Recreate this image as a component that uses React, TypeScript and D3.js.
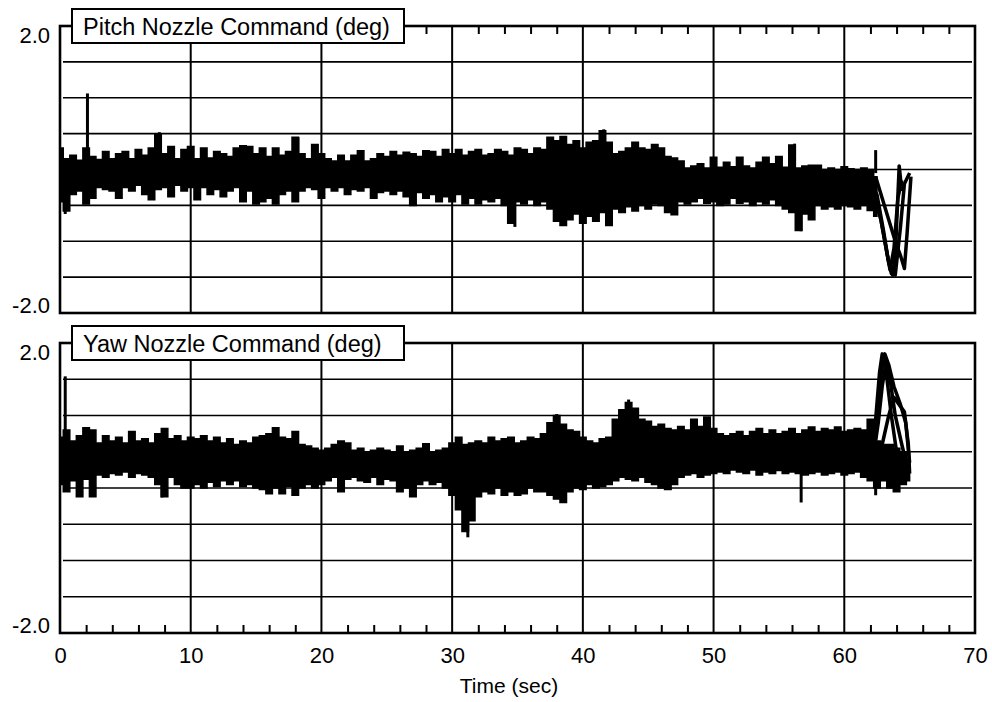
import React, { useEffect, useRef } from 'react';
import * as d3 from 'd3';

// x axis
const xTicks = [0, 10, 20, 30, 40, 50, 60, 70];
const xMinor = [2, 4, 6, 8, 12, 14, 16, 18, 22, 24, 26, 28, 32, 34, 36, 38, 42, 44, 46, 48, 52, 54, 56, 58, 62, 64, 66, 68];
const yGrid = [-1.5, -1, -0.5, 0, 0.5, 1, 1.5];
const yLabels = [-2, 2];

// band samples every 0.5 s, starting at t = 0
const SAMPLE_DT = 0.5;

const pitchUpper = [
  0.30, 0.15, 0.20, 0.13, 0.30, 0.18, 0.14, 0.25, 0.15, 0.22,
  0.25, 0.15, 0.28, 0.20, 0.30, 0.50, 0.22, 0.32, 0.15, 0.28,
  0.32, 0.15, 0.30, 0.16, 0.25, 0.22, 0.18, 0.30, 0.33, 0.32,
  0.22, 0.30, 0.18, 0.30, 0.20, 0.25, 0.45, 0.22, 0.15, 0.35,
  0.22, 0.15, 0.12, 0.20, 0.12, 0.20, 0.26, 0.12, 0.15, 0.22,
  0.18, 0.25, 0.20, 0.24, 0.22, 0.18, 0.26, 0.25, 0.18, 0.28,
  0.22, 0.28, 0.20, 0.25, 0.28, 0.20, 0.22, 0.28, 0.25, 0.20,
  0.30, 0.28, 0.22, 0.30, 0.28, 0.45, 0.40, 0.46, 0.35, 0.40,
  0.30, 0.38, 0.40, 0.54, 0.38, 0.22, 0.25, 0.30, 0.38, 0.30,
  0.28, 0.35, 0.30, 0.18, 0.16, 0.12, 0.02, 0.05, 0.08, 0.02,
  0.17, 0.03, 0.10, 0.04, 0.17, 0.05, 0.02, 0.10, 0.17, 0.08,
  0.18, 0.03, 0.34, 0.02, 0.05, 0.06, 0.06, 0.00, 0.02, 0.00,
  0.04, 0.01, 0.00, 0.02, 0.00, -0.10,
];
const pitchLower = [
  -0.45, -0.58, -0.35, -0.30, -0.48, -0.40, -0.25, -0.28, -0.30, -0.40,
  -0.25, -0.30, -0.22, -0.35, -0.42, -0.28, -0.25, -0.38, -0.22, -0.30,
  -0.25, -0.42, -0.25, -0.35, -0.28, -0.38, -0.30, -0.25, -0.45, -0.30,
  -0.48, -0.45, -0.40, -0.48, -0.35, -0.30, -0.45, -0.30, -0.25, -0.28,
  -0.40, -0.25, -0.30, -0.25, -0.35, -0.28, -0.30, -0.25, -0.40, -0.32,
  -0.30, -0.35, -0.30, -0.38, -0.50, -0.32, -0.40, -0.35, -0.45, -0.38,
  -0.45, -0.35, -0.48, -0.40, -0.48, -0.42, -0.45, -0.40, -0.50, -0.75,
  -0.45, -0.48, -0.42, -0.50, -0.45, -0.55, -0.72, -0.78, -0.70, -0.62,
  -0.75, -0.65, -0.72, -0.60, -0.78, -0.55, -0.60, -0.52, -0.58, -0.50,
  -0.55, -0.48, -0.50, -0.60, -0.63, -0.45, -0.48, -0.45, -0.40, -0.47,
  -0.45, -0.50, -0.48, -0.40, -0.47, -0.45, -0.50, -0.45, -0.48, -0.42,
  -0.50, -0.55, -0.60, -0.85, -0.62, -0.70, -0.50, -0.55, -0.52, -0.55,
  -0.50, -0.52, -0.55, -0.50, -0.57, -0.65,
];
// narrow spikes [t, value]
const pitchSpikes = [[2.1, 1.06], [0.4, -0.62], [7.6, 0.52], [18.2, 0.45], [34.8, -0.8], [41.6, 0.56], [56.2, 0.36], [56.7, -0.86], [62.4, 0.27]];
const pitchSpikeBase = -0.05;
// individual runs at the end of the flight [t, value]
const pitchEndRuns = [
  [[62.0, -0.2], [62.5, -0.35], [63.0, -0.85], [63.4, -1.3], [63.7, -1.47], [63.9, -1.2], [64.2, 0.05], [64.4, -0.3]],
  [[62.2, -0.3], [62.8, -0.7], [63.3, -1.2], [63.6, -1.45], [63.9, -1.47], [64.3, -0.8], [64.6, -0.2], [65.0, -0.05]],
  [[62.4, -0.1], [62.9, -0.4], [63.4, -0.7], [63.9, -1.0], [64.3, -1.2], [64.6, -1.38], [64.8, -0.9], [65.1, -0.1]],
  [[62.0, -0.1], [62.6, -0.5], [63.1, -1.0], [63.5, -1.4], [63.8, -1.1], [64.1, -0.4], [64.4, -0.15]],
];

const yawUpper = [
  0.70, 0.80, 0.65, 0.72, 0.83, 0.80, 0.62, 0.72, 0.65, 0.70,
  0.62, 0.78, 0.65, 0.68, 0.62, 0.75, 0.82, 0.68, 0.72, 0.65,
  0.70, 0.68, 0.72, 0.65, 0.70, 0.62, 0.68, 0.60, 0.65, 0.62,
  0.70, 0.72, 0.75, 0.83, 0.70, 0.68, 0.78, 0.60, 0.58, 0.55,
  0.52, 0.55, 0.60, 0.65, 0.62, 0.52, 0.55, 0.50, 0.52, 0.55,
  0.52, 0.50, 0.58, 0.50, 0.52, 0.55, 0.61, 0.50, 0.52, 0.55,
  0.62, 0.70, 0.60, 0.62, 0.65, 0.62, 0.70, 0.65, 0.68, 0.70,
  0.62, 0.65, 0.70, 0.68, 0.75, 0.90, 1.00, 0.88, 0.80, 0.78,
  0.70, 0.65, 0.62, 0.68, 0.70, 0.95, 1.08, 1.18, 1.10, 0.95,
  0.92, 0.85, 0.88, 0.82, 0.80, 0.85, 0.80, 0.95, 0.85, 0.98,
  0.82, 0.75, 0.72, 0.75, 0.78, 0.72, 0.78, 0.82, 0.75, 0.80,
  0.75, 0.78, 0.82, 0.75, 0.80, 0.84, 0.78, 0.82, 0.80, 0.84,
  0.78, 0.80, 0.82, 0.80, 0.95, 0.65, 0.60, 0.60, 0.55, 0.50,
  0.40,
];
const yawLower = [
  0.05, -0.05, 0.10, -0.12, 0.12, -0.12, 0.18, 0.15, 0.20, 0.18,
  0.22, 0.15, 0.20, 0.18, 0.15, 0.05, -0.12, 0.15, 0.05, 0.00,
  0.00, 0.05, 0.00, 0.08, 0.02, 0.10, 0.05, 0.10, 0.02, 0.05,
  0.00, -0.02, -0.08, 0.00, -0.08, 0.02, -0.10, 0.00, 0.05, 0.00,
  0.05, 0.10, 0.15, -0.05, 0.12, 0.15, 0.10, 0.08, 0.15, 0.05,
  0.12, 0.10, -0.05, 0.00, -0.12, 0.05, 0.10, 0.05, 0.08, 0.00,
  -0.10, -0.30, -0.60, -0.45, -0.12, -0.05, -0.08, 0.00, -0.10, -0.05,
  -0.10, -0.08, 0.00, -0.05, -0.05, -0.10, -0.15, -0.20, -0.05, 0.00,
  -0.02, 0.05, 0.00, 0.02, 0.05, 0.10, 0.15, 0.12, 0.10, 0.15,
  0.08, 0.05, 0.00, -0.02, 0.05, 0.15, 0.18, 0.20, 0.15, 0.18,
  0.20, 0.22, 0.20, 0.25, 0.22, 0.20, 0.25, 0.18, 0.22, 0.20,
  0.24, 0.20, 0.22, 0.20, 0.18, 0.20, 0.22, 0.18, 0.20, 0.22,
  0.18, 0.20, 0.22, 0.15, 0.10, 0.00, 0.10, 0.00, -0.05, 0.05,
  0.10,
];
const yawSpikes = [[0.4, 1.54], [31.2, -0.68], [56.7, -0.2], [62.4, -0.1], [38.0, 1.02], [43.5, 1.22], [7.8, -0.13]];
const yawSpikeBase = 0.4;
const yawEndRuns = [
  [[62.0, 0.6], [62.4, 0.95], [62.7, 1.6], [62.9, 1.85], [63.2, 1.6], [63.6, 1.0], [64.0, 0.5], [64.3, 0.3]],
  [[62.3, 0.5], [62.6, 1.2], [62.9, 1.7], [63.1, 1.85], [63.4, 1.7], [63.8, 1.4], [64.3, 1.15], [64.7, 0.9], [65.0, 0.35]],
  [[62.4, 0.3], [62.9, 0.6], [63.4, 1.0], [63.8, 1.25], [64.2, 1.15], [64.6, 1.05], [64.9, 0.6], [65.0, 0.2]],
  [[62.2, 0.4], [62.6, 0.9], [62.9, 1.4], [63.2, 1.75], [63.5, 1.5], [63.9, 1.0], [64.4, 0.6], [64.8, 0.3]],
];

const FONT = "'Liberation Sans', Arial, Helvetica, sans-serif";

const App: React.FC = () => {
  const ref = useRef<SVGSVGElement>(null);

  useEffect(() => {
    const svg = d3.select(ref.current);
    svg.selectAll('*').remove();

    const left = 60, right = 975;
    const x = d3.scaleLinear().domain([0, 70]).range([left, right]);

    const panels = [
      { title: 'Pitch Nozzle Command (deg)', top: 26, bottom: 313, upper: pitchUpper, lower: pitchLower, spikes: pitchSpikes, base: pitchSpikeBase, runs: pitchEndRuns, topTicks: true },
      { title: 'Yaw Nozzle Command (deg)', top: 343, bottom: 633, upper: yawUpper, lower: yawLower, spikes: yawSpikes, base: yawSpikeBase, runs: yawEndRuns, topTicks: false },
    ];

    panels.forEach((p) => {
      const y = d3.scaleLinear().domain([-2, 2]).range([p.bottom, p.top]);
      const g = svg.append('g');

      // grid
      g.selectAll('.hgrid').data(yGrid).enter().append('line')
        .attr('x1', left + 3).attr('x2', right - 3)
        .attr('y1', (d) => y(d)).attr('y2', (d) => y(d))
        .attr('stroke', '#000').attr('stroke-width', 1.6);
      g.selectAll('.vgrid').data(xTicks.slice(1, -1)).enter().append('line')
        .attr('x1', (d) => x(d)).attr('x2', (d) => x(d))
        .attr('y1', p.top).attr('y2', p.bottom)
        .attr('stroke', '#000').attr('stroke-width', 2);

      // minor ticks
      const ticks = p.topTicks
        ? d3.axisTop(x).tickValues(xMinor).tickSize(-8).tickFormat(() => '')
        : d3.axisBottom(x).tickValues(xMinor).tickSize(-8).tickFormat(() => '');
      const tg = g.append('g')
        .attr('transform', `translate(0,${p.topTicks ? p.top : p.bottom})`)
        .call(ticks as any);
      tg.select('.domain').remove();
      tg.selectAll('line').attr('stroke', '#000').attr('stroke-width', 2);

      // band
      const band = p.upper.map((u, i) => ({ t: i * SAMPLE_DT, u, l: p.lower[i] }));
      const area = d3.area<any>()
        .x((d) => x(d.t))
        .y0((d) => y(d.l))
        .y1((d) => y(d.u))
        .curve(d3.curveStep);
      g.append('path').datum(band).attr('d', area).attr('fill', '#000')
        .attr('stroke', '#000').attr('stroke-width', 1.5);

      g.selectAll('.spike').data(p.spikes).enter().append('line')
        .attr('x1', (d) => x(d[0])).attr('x2', (d) => x(d[0]))
        .attr('y1', y(p.base)).attr('y2', (d) => y(d[1]))
        .attr('stroke', '#000').attr('stroke-width', 3);

      const line = d3.line<number[]>().x((d) => x(d[0])).y((d) => y(d[1]));
      g.selectAll('.run').data(p.runs).enter().append('path')
        .attr('d', (d) => line(d as any))
        .attr('fill', 'none').attr('stroke', '#000').attr('stroke-width', 3.5)
        .attr('stroke-linejoin', 'round');

      // frame
      g.append('rect')
        .attr('x', left).attr('y', p.top)
        .attr('width', right - left).attr('height', p.bottom - p.top)
        .attr('fill', 'none').attr('stroke', '#000').attr('stroke-width', 2.6);

      // y labels
      g.selectAll('.ylab').data(yLabels).enter().append('text')
        .attr('x', 50)
        .attr('y', (d) => (d > 0 ? y(d) + 17 : y(d)))
        .attr('text-anchor', 'end')
        .attr('font-family', FONT).attr('font-size', 22)
        .text((d) => d.toFixed(1));

      // title box
      const boxTop = p.top - 17;
      g.append('rect')
        .attr('x', 72).attr('y', boxTop).attr('width', 332).attr('height', 34)
        .attr('fill', '#fff').attr('stroke', '#000').attr('stroke-width', 2);
      g.append('text')
        .attr('x', 83).attr('y', boxTop + 26)
        .attr('font-family', FONT).attr('font-size', 23.5)
        .text(p.title);

      if (!p.topTicks) {
        const ax = g.append('g')
          .attr('transform', `translate(0,${p.bottom})`)
          .call(d3.axisBottom(x).tickValues(xTicks).tickSize(0).tickPadding(14).tickFormat((d) => String(d)) as any);
        ax.select('.domain').remove();
        ax.selectAll('text').attr('font-family', FONT).attr('font-size', 22).attr('fill', '#000');
      }
    });

    svg.append('text')
      .attr('x', 509).attr('y', 693)
      .attr('text-anchor', 'middle')
      .attr('font-family', FONT).attr('font-size', 21)
      .text('Time (sec)');
  }, []);

  return (
    <svg ref={ref} width={992} height={702}
      style={{ position: 'absolute', left: 0, top: 0, background: '#fff' }} />
  );
};

export default App;
